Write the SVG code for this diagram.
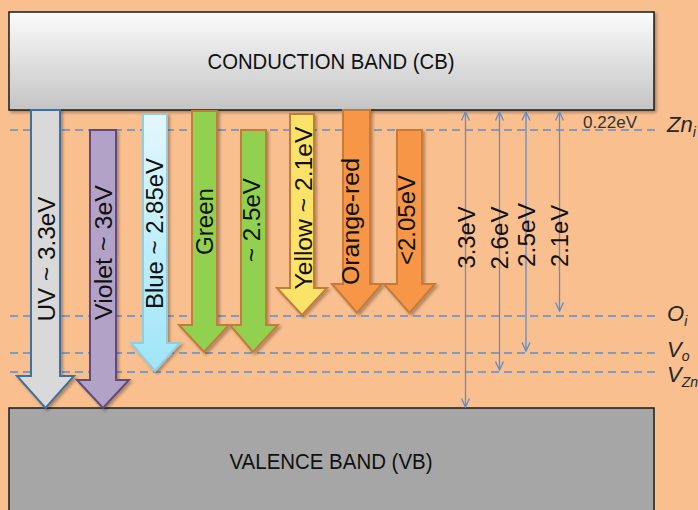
<svg xmlns="http://www.w3.org/2000/svg" width="698" height="510" viewBox="0 0 698 510">
<defs>
<linearGradient id="cbGrad" x1="0" y1="0" x2="0" y2="1">
<stop offset="0" stop-color="#fbfbfb"/>
<stop offset="1" stop-color="#c4c4c4"/>
</linearGradient>
<linearGradient id="blueGrad" x1="0" y1="0" x2="0" y2="1">
<stop offset="0" stop-color="#e2f7fd"/>
<stop offset="1" stop-color="#9fe5f8"/>
</linearGradient>
<filter id="sh" x="-20%" y="-20%" width="140%" height="140%">
<feDropShadow dx="2" dy="2" stdDeviation="1.5" flood-color="#000" flood-opacity="0.3"/>
</filter>
<marker id="ah" viewBox="0 0 10 10" refX="9.5" refY="5" markerWidth="10" markerHeight="10" markerUnits="userSpaceOnUse" orient="auto-start-reverse">
<path d="M1,1 L9.5,5 L1,9" fill="none" stroke="#5b8dd0" stroke-width="1.3"/>
</marker>
<style>
.band{stroke:#1a1a1a;stroke-width:1.5}
.bt{font-family:"Liberation Sans",Arial,sans-serif;font-size:22px;fill:#111;text-anchor:middle}
.al{font-family:"Liberation Sans",Arial,sans-serif;font-size:23px;fill:#111;text-anchor:middle}
.lvl{stroke:#5b8fd4;stroke-width:1.6;stroke-dasharray:8 5;fill:none}
.thin{stroke:#5b8dd0;stroke-width:1.3;fill:none;marker-start:url(#ah);marker-end:url(#ah)}
.ev{font-family:"Liberation Sans",Arial,sans-serif;font-size:17px;fill:#333}
.lab{font-family:"Liberation Sans",Arial,sans-serif;font-style:italic;font-size:22px;fill:#262626}
.sub{font-size:14px}
.arr{stroke-width:2;filter:url(#sh)}
.org{stroke:#c27b3b}
</style>
</defs>
<rect x="0" y="0" width="698" height="510" fill="#f9bf8f"/>

<g id="levels">
<line class="lvl" x1="10" y1="130" x2="655" y2="130"/>
<line class="lvl" x1="10" y1="316" x2="655" y2="316"/>
<line class="lvl" x1="10" y1="353" x2="655" y2="353"/>
<line class="lvl" x1="10" y1="372" x2="655" y2="372"/>
</g>

<g id="cb">
<rect class="band" x="9" y="12" width="645" height="98" fill="url(#cbGrad)" filter="url(#sh)"/>
<text class="bt" x="331" y="69" textLength="247" lengthAdjust="spacingAndGlyphs">CONDUCTION BAND (CB)</text>
</g>

<g id="vb">
<rect class="band" x="9" y="408" width="645" height="110" fill="#a6a6a6"/>
<text class="bt" x="331" y="469" textLength="203" lengthAdjust="spacingAndGlyphs">VALENCE BAND (VB)</text>
</g>

<g id="uv">
<polygon class="arr" points="31,110 60,110 60,376 74,376 45.5,408 17,376 31,376" fill="#d9d9d9" stroke="#41719c"/>
<text class="al" transform="translate(55,259) rotate(-90)" textLength="125" lengthAdjust="spacingAndGlyphs">UV ~ 3.3eV</text>
</g>

<g id="violet">
<polygon class="arr" points="90,130 116,130 116,380 129,380 103,408 77,380 90,380" fill="#b3a2c7" stroke="#604a7b"/>
<text class="al" transform="translate(111.5,252.5) rotate(-90)" textLength="135" lengthAdjust="spacingAndGlyphs">Violet ~ 3eV</text>
</g>

<g id="blue">
<polygon class="arr" points="143,114 167,114 167,343 180,343 155,371 131,343 143,343" fill="url(#blueGrad)" stroke="#93cddd"/>
<text class="al" transform="translate(163,233.5) rotate(-90)" textLength="151" lengthAdjust="spacingAndGlyphs">Blue ~ 2.85eV</text>
</g>

<g id="green">
<polygon class="arr org" points="192,111 217,111 217,325 229,325 204,352 179,325 192,325" fill="#92d050"/>
<text class="al" transform="translate(213,221.5) rotate(-90)" textLength="67" lengthAdjust="spacingAndGlyphs">Green</text>
</g>

<g id="green2">
<polygon class="arr org" points="241,130 266,130 266,325 278,325 253,352 230,325 241,325" fill="#92d050"/>
<text class="al" transform="translate(260,220) rotate(-90)" textLength="84" lengthAdjust="spacingAndGlyphs">~ 2.5eV</text>
</g>

<g id="yellow">
<polygon class="arr org" points="290,114 314,114 314,288 327,288 302,315 277,288 290,288" fill="#fbe36a"/>
<text class="al" transform="translate(311.5,208) rotate(-90)" textLength="163" lengthAdjust="spacingAndGlyphs">Yellow ~ 2.1eV</text>
</g>

<g id="orangered">
<polygon class="arr org" points="343,110 370,110 370,284 382,284 357,313 332,284 343,284" fill="#f79646"/>
<text class="al" transform="translate(359,221.5) rotate(-90)" textLength="127" lengthAdjust="spacingAndGlyphs">Orange-red</text>
</g>

<g id="orange2">
<polygon class="arr org" points="397,130 422,130 422,284 435,284 409.5,313 384,284 397,284" fill="#f79646"/>
<text class="al" transform="translate(415,220) rotate(-90)" textLength="90" lengthAdjust="spacingAndGlyphs">&lt;2.05eV</text>
</g>

<g id="connectors">
<line class="thin" x1="465.5" y1="112" x2="465.5" y2="407"/>
<line class="thin" x1="499.5" y1="112" x2="499.5" y2="370"/>
<line class="thin" x1="526" y1="112" x2="526" y2="351"/>
<line class="thin" x1="559.5" y1="112" x2="559.5" y2="311"/>
</g>

<g id="energy-labels">
<text class="al" transform="translate(475,237.5) rotate(-90)" textLength="62" lengthAdjust="spacingAndGlyphs">3.3eV</text>
<text class="al" transform="translate(508,238) rotate(-90)" textLength="63" lengthAdjust="spacingAndGlyphs">2.6eV</text>
<text class="al" transform="translate(535,235) rotate(-90)" textLength="64" lengthAdjust="spacingAndGlyphs">2.5eV</text>
<text class="al" transform="translate(568,236) rotate(-90)" textLength="62" lengthAdjust="spacingAndGlyphs">2.1eV</text>
<text class="ev" x="583" y="128" textLength="54" lengthAdjust="spacingAndGlyphs">0.22eV</text>
</g>

<g id="level-labels">
<text class="lab" x="667" y="132">Zn<tspan class="sub" dy="5">i</tspan></text>
<text class="lab" x="667" y="321">O<tspan class="sub" dy="5">i</tspan></text>
<text class="lab" x="667" y="357">V<tspan class="sub" dy="4">o</tspan></text>
<text class="lab" x="667" y="382">V<tspan class="sub" dy="5">Zn</tspan></text>
</g>
</svg>
